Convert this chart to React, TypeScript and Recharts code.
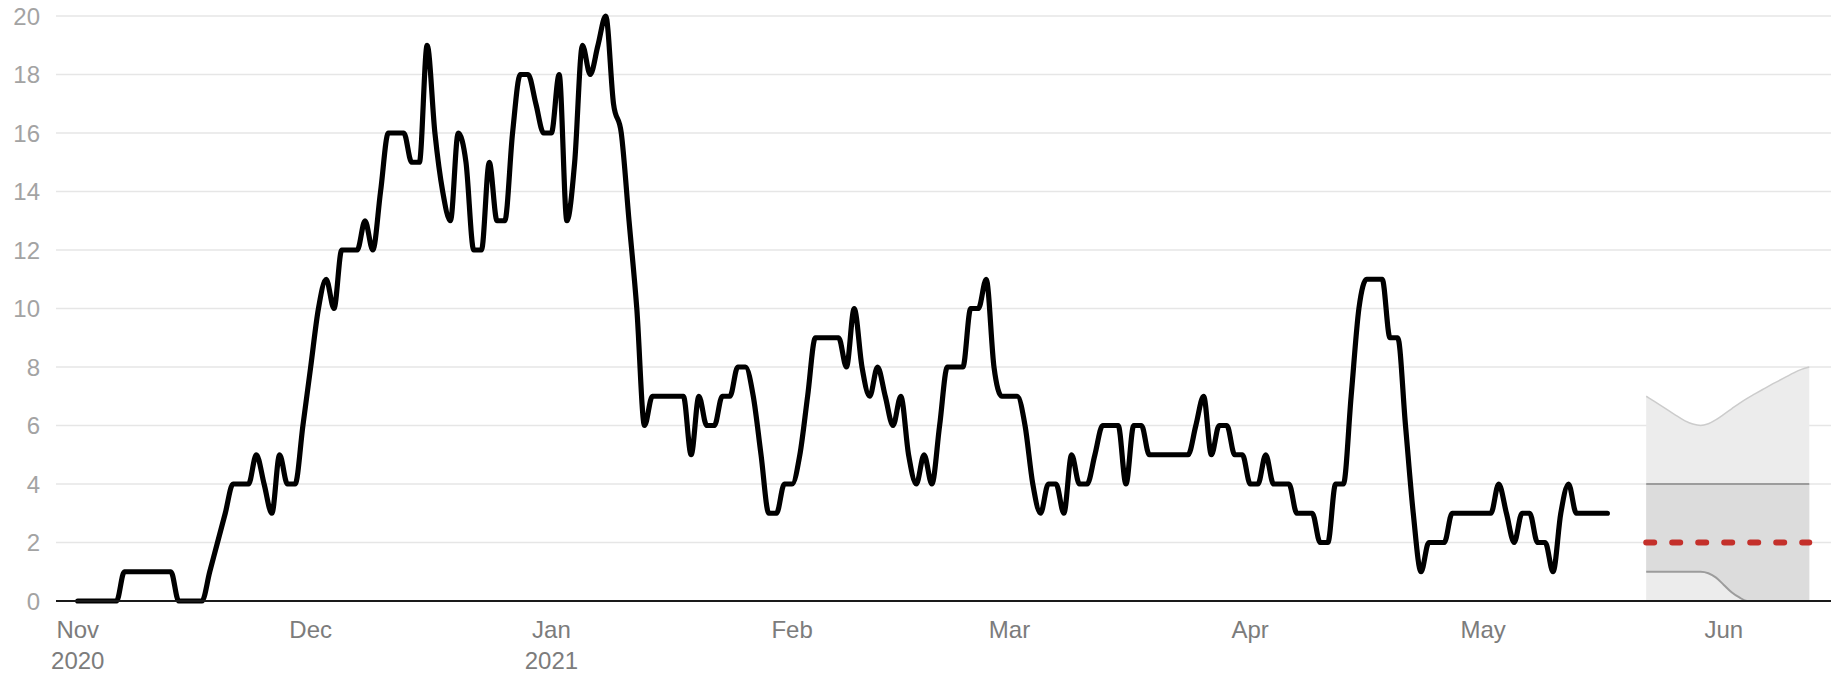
import React from 'react';
import { ComposedChart, Line, Area, XAxis, YAxis, CartesianGrid } from 'recharts';

// daily counts, day 0 = 1 Nov 2020
const dailyCounts = [
  0, 0, 0, 0, 0, 0, 1, 1, 1, 1,
  1, 1, 1, 0, 0, 0, 0, 1, 2, 3,
  4, 4, 4, 5, 4, 3, 5, 4, 4, 6,
  8, 10, 11, 10, 12, 12, 12, 13, 12, 14,
  16, 16, 16, 15, 15, 19, 16, 14, 13, 16,
  15, 12, 12, 15, 13, 13, 16, 18, 18, 17,
  16, 16, 18, 13, 15, 19, 18, 19, 20, 17,
  16, 13, 10, 6, 7, 7, 7, 7, 7, 5,
  7, 6, 6, 7, 7, 8, 8, 7, 5, 3,
  3, 4, 4, 5, 7, 9, 9, 9, 9, 8,
  10, 8, 7, 8, 7, 6, 7, 5, 4, 5,
  4, 6, 8, 8, 8, 10, 10, 11, 8, 7,
  7, 7, 6, 4, 3, 4, 4, 3, 5, 4,
  4, 5, 6, 6, 6, 4, 6, 6, 5, 5,
  5, 5, 5, 5, 6, 7, 5, 6, 6, 5,
  5, 4, 4, 5, 4, 4, 4, 3, 3, 3,
  2, 2, 4, 4, 7, 10, 11, 11, 11, 9,
  9, 6, 3, 1, 2, 2, 2, 3, 3, 3,
  3, 3, 3, 4, 3, 2, 3, 3, 2, 2,
  1, 3, 4, 3, 3, 3, 3, 3,
];

// forecast window (22 May - 12 Jun)
const forecastDays = [202, 203, 204, 205, 206, 207, 208, 209, 210, 211, 212, 213, 214, 215, 216, 217, 218, 219, 220, 221, 222, 223];
const forecastUpper = [7.0, 6.83, 6.66, 6.49, 6.32, 6.16, 6.05, 6.0, 6.06, 6.2, 6.38, 6.57, 6.76, 6.93, 7.08, 7.23, 7.38, 7.52, 7.66, 7.8, 7.92, 8.0];
const forecastLower = [1, 1, 1, 1, 1, 1, 1, 1, 0.95, 0.8, 0.55, 0.3, 0.12, 0, 0, 0, 0, 0, 0, 0, 0, 0];
const forecastMid = 4;
const forecastMedian = 2;

const monthTicks = [0, 30, 61, 92, 120, 151, 181, 212];
const monthLabels = ['Nov', 'Dec', 'Jan', 'Feb', 'Mar', 'Apr', 'May', 'Jun'];
const yearLabels = ['2020', '', '2021', '', '', '', '', ''];
const yTicks = [0, 2, 4, 6, 8, 10, 12, 14, 16, 18, 20];

const countData = dailyCounts.map((v, i) => ({ day: i, value: v }));
const forecastData = forecastDays.map((d, i) => ({
  day: d,
  outer: [0, forecastUpper[i]],
  inner: [forecastLower[i], forecastMid],
  upper: forecastUpper[i],
  lower: forecastLower[i],
  mid: forecastMid,
  median: forecastMedian,
}));

const FONT = '"Liberation Sans", Arial, sans-serif';

const MonthTick = (props: any) => {
  const { x, y, payload } = props;
  const i = monthTicks.indexOf(payload.value);
  return (
    <text x={x} y={y} textAnchor="middle" fill="#7c7c7c" fontSize={24} fontFamily={FONT}>
      <tspan x={x} dy={37}>{monthLabels[i]}</tspan>
      {yearLabels[i] && <tspan x={x} dy={31}>{yearLabels[i]}</tspan>}
    </text>
  );
};

const App: React.FC = () => {
  return (
    <div style={{ position: 'absolute', left: 0, top: 0, width: 1841, height: 674, background: '#fff' }}>
      <ComposedChart width={1841} height={674} margin={{ top: 16, right: 10, left: 0, bottom: 0 }}>
        <CartesianGrid vertical={false} stroke="#e6e6e6" strokeWidth={1.5} />
        <XAxis
          type="number"
          dataKey="day"
          domain={[-2.8, 225.8]}
          ticks={monthTicks}
          interval={0}
          allowDataOverflow
          tick={<MonthTick />}
          tickLine={false}
          tickSize={0}
          tickMargin={0}
          axisLine={{ stroke: '#1a1a1a', strokeWidth: 2 }}
          height={73}
        />
        <YAxis
          type="number"
          domain={[0, 20]}
          ticks={yTicks}
          interval={0}
          width={56}
          axisLine={false}
          tickLine={false}
          tickSize={0}
          tickMargin={16}
          tick={{ fill: '#a3a3a3', fontSize: 24, fontFamily: FONT }}
        />
        <Area data={forecastData} dataKey="outer" type="monotone" fill="#ececec" fillOpacity={1} stroke="none" isAnimationActive={false} />
        <Area data={forecastData} dataKey="inner" type="monotone" fill="#dcdcdc" fillOpacity={1} stroke="none" isAnimationActive={false} />
        <Line data={forecastData} dataKey="upper" type="monotone" stroke="#cccccc" strokeWidth={1.5} dot={false} activeDot={false} isAnimationActive={false} />
        <Line data={forecastData} dataKey="mid" type="monotone" stroke="#9c9c9c" strokeWidth={2} dot={false} activeDot={false} isAnimationActive={false} />
        <Line data={forecastData} dataKey="lower" type="monotone" stroke="#9c9c9c" strokeWidth={2} dot={false} activeDot={false} isAnimationActive={false} />
        <Line
          data={forecastData}
          dataKey="median"
          type="linear"
          stroke="#c4302b"
          strokeWidth={6}
          strokeDasharray="8 18"
          strokeLinecap="round"
          dot={false}
          activeDot={false}
          isAnimationActive={false}
        />
        <Line
          data={countData}
          dataKey="value"
          type="monotone"
          stroke="#000"
          strokeWidth={5.2}
          strokeLinecap="round"
          strokeLinejoin="round"
          dot={false}
          activeDot={false}
          isAnimationActive={false}
        />
      </ComposedChart>
    </div>
  );
};

export default App;
